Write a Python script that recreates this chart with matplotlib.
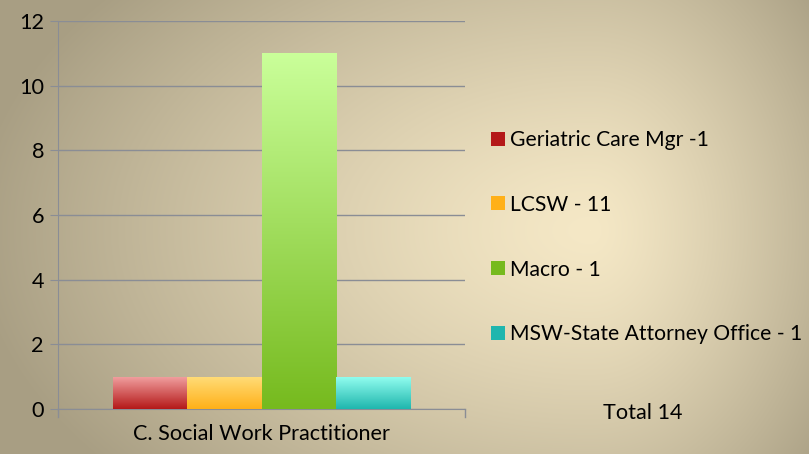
import numpy as np
import matplotlib
matplotlib.use("Agg")
import matplotlib.pyplot as plt
from matplotlib.colors import LinearSegmentedColormap, to_rgb

plt.rcParams['font.family'] = ['Lato', 'DejaVu Sans']

# --- data ---
category = "C. Social Work Practitioner"
labels = ["Geriatric Care Mgr -1", "LCSW - 11", "Macro - 1", "MSW-State Attorney Office - 1"]
values = [1, 1, 11, 1]
top_colors = ["#f2a2a2", "#ffdd7a", "#caff9a", "#94fff0"]
bottom_colors = ["#b41818", "#ffb018", "#76ba1e", "#1fb6ae"]
total_text = "Total 14"

W, H = 809, 454
FS = 15.6
fig = plt.figure(figsize=(W / 100, H / 100), dpi=100)

# --- background gradient ---
bg = fig.add_axes([0, 0, 1, 1], zorder=-10)
xx, yy = np.meshgrid(np.arange(W), np.arange(H))
cx, cy = 590, 230
rx = np.where(xx < cx, 620, 300)
d = np.sqrt(((xx - cx) / rx) ** 2 + ((yy - cy) / 380) ** 2)
d = np.clip(d, 0, 1) ** 1.3
light = np.array(to_rgb("#f5e8c6"))
dark = np.array(to_rgb("#a89e83"))
img = light[None, None, :] * (1 - d[..., None]) + dark[None, None, :] * d[..., None]
bg.imshow(img, aspect="auto", extent=[0, W, H, 0])
bg.set_axis_off()

# --- chart ---
ax = fig.add_axes([58 / W, 45 / H, 407 / W, 388 / H])
ax.patch.set_alpha(0)

group_w = 0.732
bw = group_w / len(values)
x0 = 0.5 - group_w / 2
xs = [x0 + bw * (i + 0.5) for i in range(len(values))]

bars = ax.bar(xs, values, width=bw, color=bottom_colors, zorder=2)
for b, ct, cb in zip(bars, top_colors, bottom_colors):
    cmap = LinearSegmentedColormap.from_list("g", [cb, ct])
    grad = np.linspace(0, 1, 256).reshape(-1, 1)
    bx, by = b.get_x(), b.get_y()
    im = ax.imshow(grad, cmap=cmap, aspect="auto", origin="lower",
                   extent=[bx, bx + b.get_width(), by, by + b.get_height()], zorder=3)
    im.set_clip_path(b)
ax.set_xlim(0, 1)
ax.set_ylim(0, 12)

grid_c = "#8a8d95"
ax.set_yticks(range(0, 13, 2))
ax.yaxis.grid(True, color=grid_c, linewidth=1.0, zorder=1)
ax.set_axisbelow(True)
ax.tick_params(axis="y", length=6, color=grid_c, labelsize=FS, pad=4)
ax.set_xticks([0.5])
ax.set_xticklabels([category])
ax.tick_params(axis="x", length=0, labelsize=FS, pad=11)
for t in [0, 1]:
    ax.plot([t, t], [0, -0.25], color=grid_c, lw=1, clip_on=False)
for s in ["top", "right"]:
    ax.spines[s].set_visible(False)
ax.spines["left"].set_color(grid_c)
ax.spines["bottom"].set_color(grid_c)

leg = fig.legend(bars, labels, loc="upper left", bbox_to_anchor=(472 / W, 1 - 111 / H),
                 frameon=False, fontsize=15.2, handlelength=0.65, handleheight=0.65,
                 handletextpad=0.25, labelspacing=2.12)

fig.text(643 / W, 1 - 413 / H, total_text, ha="center", va="center", fontsize=FS)

fig.savefig("out.png", dpi=100)
